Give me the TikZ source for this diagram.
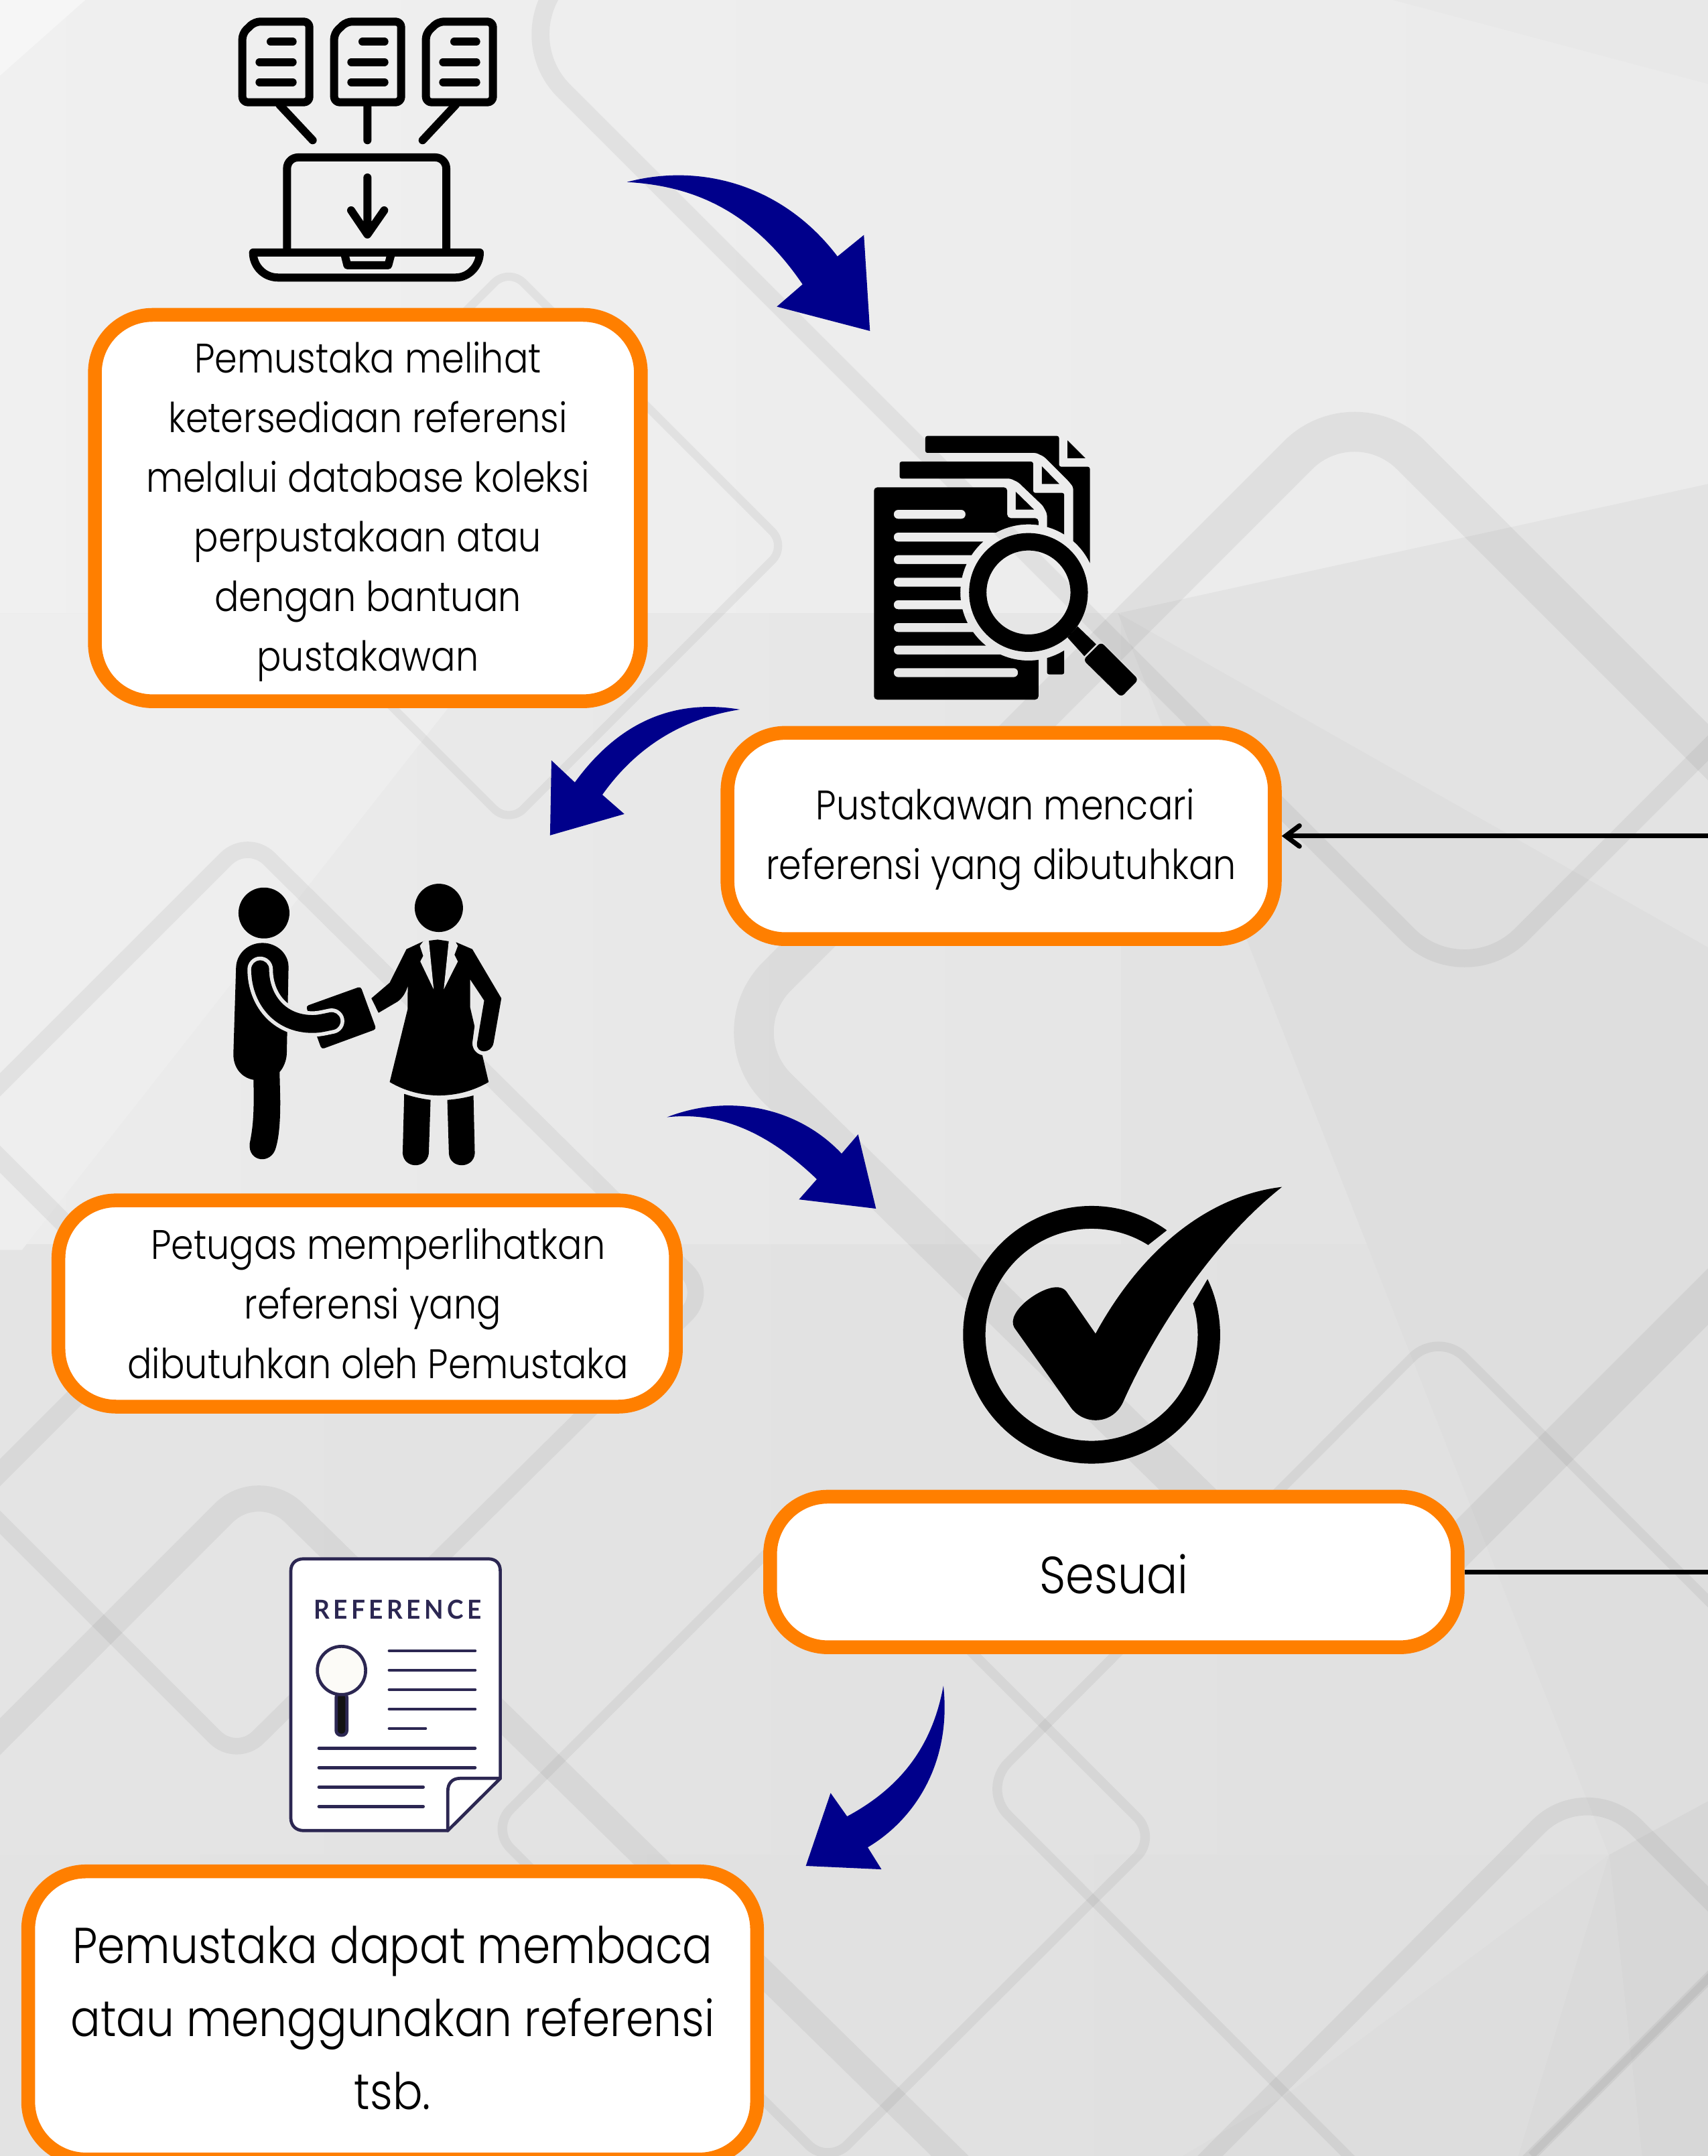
\documentclass[tikz,border=0pt]{standalone}
\usepackage{fontspec}
\setmainfont{Poppins Light}[FakeStretch=0.878]
\newfontfamily\reffont{Lato}[LetterSpace=14,FakeStretch=0.95]
\usetikzlibrary{arrows.meta}
\definecolor{orangeb}{HTML}{FF7F00}
\definecolor{navyb}{HTML}{00008B}
\definecolor{ink}{HTML}{2C2752}
\definecolor{gapc}{HTML}{E9E9E9}
\definecolor{lensc}{HTML}{FCFBF7}
\tikzset{
  flowbox/.style={draw=orangeb,fill=white,line width=10pt,rounded corners=42pt,align=center,inner sep=0pt,text=black},
  band/.style={draw=black,draw opacity=0.05,line width=#1,line join=round},
  curved/.style={fill=navyb},
  facet/.style={fill=#1,draw=none},
  icon/.style={x=0.1624pt,y=-0.1624pt},
  stk/.style={draw=black,line width=5.85pt,line cap=round,line join=round},
  rlf/.style={draw=ink,line width=2.3pt,line cap=round,line join=round},
  feedback/.style={draw=black,line width=3.5pt},
}
\begin{document}
\begin{tikzpicture}[x=1pt,y=-1pt]
\useasboundingbox (0,0) rectangle (1242,1568);
% ---- background
\begin{scope}
\clip (0,0) rectangle (1242,1568);
\shade[left color=black!6,right color=black!8] (0,0) rectangle (1242,446);
\shade[left color=black!7.5,right color=black!10] (0,446) rectangle (815,905);
\fill[facet=black!11] (815,446) rectangle (1242,905);
\shade[left color=black!10.5,right color=black!12] (0,905) rectangle (1242,1349);
\shade[left color=black!11,right color=black!12.5] (0,1349) rectangle (1242,1568);
\fill[facet=black!3.5] (0,0) -- (62,0) -- (0,55) -- cycle;
\fill[facet=black!9] (1013,0) -- (1242,61) -- (1242,0) -- cycle;
\fill[facet=black!11] (813,446) -- (1242,352) -- (1242,446) -- cycle;
\fill[facet=black!6.5] (0,446) -- (380,446) -- (16,909) -- (0,909) -- cycle;
\fill[facet=black!13] (813,446) -- (994,905) -- (1242,905) -- (1242,689) -- cycle;
\fill[facet=black!13] (994,905) -- (1170,1349) -- (1242,1310) -- (1242,905) -- cycle;
\fill[facet=black!15.5] (1170,1349) -- (1242,1310) -- (1242,1568) -- (1194,1568) -- cycle;
\fill[facet=black!14.5] (1170,1349) -- (1194,1568) -- (1104,1568) -- cycle;
\fill[facet=black!13.5] (1170,1349) -- (1104,1568) -- (860,1568) -- (936,1523) -- cycle;
% diamonds
\draw[band=13,rounded corners=58pt] (569,-175) -- (369,25) -- (1065,721) -- (1465,321);
\draw[band=29,rounded corners=58pt] (985,290) -- (1440,745) -- (984,1201) -- (524,751) -- cycle;
\draw[band=6,rounded corners=15pt] (370,195) -- (572,397) -- (370,599) -- (168,397) -- cycle;
\draw[band=12,rounded corners=22pt] (180,609) -- (515,940) -- (172,1279) -- (-159,948) -- cycle;
\draw[band=14,rounded corners=20pt] (-100,743) -- (114,957) -- (-100,1171);
\draw[band=19,rounded corners=36pt] (-100,1363) -- (188,1075) -- (800,1675);
\draw[band=7,rounded corners=27pt] (1046,968) -- (1379,1301) -- (1046,1634) -- (714,1301) -- cycle;
\draw[band=7,rounded corners=20pt] (596,1091) -- (841,1336) -- (602,1574) -- (357,1330) -- cycle;
\draw[band=13,rounded corners=50pt] (850,1598) -- (1154,1293) -- (1500,1639);
\draw[band=7] (1300,1382) -- (1114,1568);
\end{scope}
% ---- icon: laptop with documents
\begin{scope}[shift={(146.2,0)},icon]
\foreach \d in {0,411,822}{
  \draw[stk,rounded corners=4pt,shift={(\d,0)}] (185,150) -- (240,97) -- (485,97) -- (485,458) -- (185,458) -- cycle;
  \draw[stk,shift={(\d,0)}] (312,187) -- (410,187) (262,278) -- (410,278) (262,368) -- (410,368);
}
\draw[stk] (352,470) -- (500,628) (745,470) -- (745,628) (1140,470) -- (992,628);
\draw[stk,rounded corners=8pt] (385,1130) -- (385,705) -- (1098,705) -- (1098,1130);
\draw[stk] (745,795) -- (745,1050) (672,942) -- (745,1050) -- (820,942);
\draw[stk] (233,1131) -- (1248,1131) .. controls (1248,1190) and (1200,1243) .. (1140,1243) -- (345,1243) .. controls (280,1243) and (233,1190) .. (233,1131) -- cycle;
\draw[stk] (642,1135) -- (655,1188) -- (838,1188) -- (852,1135);
\end{scope}
% ---- icon: documents and magnifier
\begin{scope}[shift={(613.9,302.1)},icon]
\begin{scope}
\clip (-200,-200) -- (1600,-200) -- (1600,1600) -- (-200,1600) -- cycle (1130,793) arc[start angle=360,end angle=0,radius=305];
\fill[rounded corners=1.5pt] (363,168) -- (363,92) -- (962,92) -- (962,230) -- (1100,230) -- (1100,800) -- (1025,800) -- (1025,320) -- (1005,295) -- (895,185) -- (860,168) -- cycle;
\fill[rounded corners=1.5pt] (248,283) -- (248,207) -- (846,207) -- (846,347) -- (985,347) -- (985,1160) -- (908,1160) -- (908,440) -- (890,405) -- (780,300) -- (745,283) -- cycle;
\fill[even odd rule] [rounded corners=2.5pt] (133,322) -- (730,322) -- (730,460) -- (870,460) -- (870,1273) -- (133,1273) -- cycle
 [rounded corners=3pt]
 (222,423) rectangle (543,463)
 (222,525) rectangle (760,565)
 (222,626) rectangle (760,666)
 (222,727) rectangle (760,767)
 (222,828) rectangle (760,868)
 (222,930) rectangle (760,970)
 (222,1031) rectangle (760,1071)
 (222,1132) rectangle (778,1172);
\end{scope}
\fill (1000,112) -- (1080,192) -- (1000,192) -- cycle;
\fill (885,228) -- (963,307) -- (885,307) -- cycle;
\fill (768,342) -- (850,422) -- (768,422) -- cycle;
\fill[even odd rule] (825,793) circle[radius=266] (825,793) circle[radius=188];
\fill (1045,945) -- (1128,1025) -- (1075,1078) -- (1000,995) -- cycle;
\fill[rounded corners=3pt] (1150,1015) -- (1318,1183) -- (1240,1262) -- (1070,1095) -- cycle;
\end{scope}
% ---- icon: two people
\begin{scope}[shift={(155.9,628.6)},icon]
\fill (222,218) circle[radius=114];
\fill (97,460) .. controls (100,400) and (150,352) .. (215,352) .. controls (280,352) and (332,400) .. (332,460) -- (324,850) .. controls (322,880) and (310,910) .. (292,930) -- (295,1060) .. controls (295,1150) and (290,1220) .. (275,1270) .. controls (255,1345) and (150,1335) .. (158,1250) .. controls (175,1170) and (178,1100) .. (175,965) .. controls (120,955) and (85,910) .. (85,850) -- cycle;
\fill[rounded corners=2pt] (410,635) -- (655,547) -- (725,738) -- (480,828) -- cycle;
\draw[draw=gapc,line width=18.5pt,line cap=round] (205,470) .. controls (205,600) and (290,715) .. (440,715) .. controls (470,715) and (495,708) .. (525,702);
\draw[draw=black,line width=13pt,line cap=round] (205,470) .. controls (205,600) and (290,715) .. (440,715) .. controls (470,715) and (495,708) .. (525,702);
\fill (1005,195) circle[radius=108];
\fill (860,380) -- (935,345) -- (1000,337) -- (1085,350) -- (1155,380) -- (1285,600) -- (1250,800) .. controls (1240,850) and (1170,850) .. (1176,800) -- (1208,610) -- (1145,515) -- (1145,640) -- (1165,725) -- (1155,800) .. controls (1155,830) and (1175,850) .. (1200,855) -- (1228,975) .. controls (1090,1055) and (920,1055) .. (785,975) -- (865,650) -- (866,545) .. controls (855,580) and (840,600) .. (820,615) -- (735,665) -- (703,600) -- (785,530) -- cycle;
\fill[gapc] (935,345) -- (920,365) -- (935,410) -- (922,435) -- (982,560) -- (960,338) -- cycle;
\fill[gapc] (1050,338) -- (1027,560) -- (1090,435) -- (1075,405) -- (1090,365) -- (1080,348) -- cycle;
\fill (850,1028) .. controls (890,1042) and (930,1050) .. (968,1055) -- (960,1295) .. controls (950,1365) and (850,1365) .. (843,1295) -- cycle;
\fill (1043,1055) .. controls (1085,1052) and (1125,1045) .. (1160,1035) -- (1166,1295) .. controls (1160,1365) and (1055,1365) .. (1050,1295) -- cycle;
\end{scope}
% ---- icon: tick
\begin{scope}[shift={(682.2,847.8)},x=0.1678pt,y=-0.1624pt]
\begin{scope}
\clip (0,0) -- (1050,0) -- (990,290) -- (910,355) -- (1105,617) -- (1168,507) -- (1500,507) -- (1500,1500) -- (0,1500) -- cycle;
\fill[even odd rule] (108,757) arc[x radius=557,y radius=577,start angle=180,end angle=540]
  (205,757) arc[x radius=460,y radius=475,start angle=180,end angle=540];
\end{scope}
\fill (1490,95) .. controls (1200,130) and (900,340) .. (682,752) -- (555,562) .. controls (520,520) and (440,560) .. (390,600) .. controls (340,640) and (310,690) .. (330,725) -- (570,1075) .. controls (625,1165) and (760,1165) .. (805,1050) .. controls (940,740) and (1190,340) .. (1490,95) -- cycle;
\end{scope}
% ---- icon: reference sheet
\begin{scope}[shift={(194.9,1120.7)},icon]
\filldraw[rlf,fill=white] (102,135) .. controls (102,100) and (125,80) .. (160,80) -- (985,80) .. controls (1020,80) and (1040,100) .. (1040,135) -- (1040,1063) -- (805,1297) -- (160,1297) .. controls (125,1297) and (102,1275) .. (102,1240) -- cycle;
\draw[rlf] (1040,1063) -- (860,1063) .. controls (825,1063) and (805,1085) .. (805,1120) -- (805,1297);
\node[text=ink,inner sep=0pt,font=\reffont\bfseries\fontsize{19}{20}\selectfont] (reftitle) at (580,308) {REFERENCE};
\filldraw[rlf,fill=black!93,line width=2.3pt,rounded corners=3.5pt] (305,680) rectangle (353,870);
\filldraw[rlf,fill=lensc] (329,580) circle[radius=108];
\draw[rlf] (543,492) -- (927,492) (543,579) -- (927,579) (543,666) -- (927,666) (543,753) -- (927,753) (543,840) -- (705,840)
 (228,928) -- (927,928) (228,1015) -- (927,1015) (228,1102) -- (695,1102) (228,1189) -- (695,1189);
\end{scope}
% ---- curved blue arrows
\fill[curved] (456,132.4) .. controls (510,118) and (570,135) .. (609,186.5) -- (628.2,170.9) -- (632.6,240.7) -- (564.9,223) -- (583.6,206.8) .. controls (545,150) and (500,135) .. (456,132.4) -- cycle;
\fill[curved] (538,516) .. controls (490,508) and (450,525) .. (418,569) -- (401,553) -- (400,607.5) -- (454,592) -- (438,578) .. controls (465,540) and (500,522) .. (538,516) -- cycle;
\fill[curved] (485,812.5) .. controls (530,795) and (580,805) .. (612,839) -- (624,825) -- (637,879) -- (581,872.3) -- (594,857.6) .. controls (560,825) and (525,808) .. (485,812.5) -- cycle;
\fill[curved] (686,1226) .. controls (692,1280) and (667,1322) .. (631,1343.5) -- (641,1359.5) -- (586,1357) -- (604,1304) -- (616,1321) .. controls (655,1300) and (678,1270) .. (686,1226) -- cycle;
% ---- boxes
\node[flowbox,minimum width=397pt,minimum height=281pt,font=\fontsize{30}{43.3}\selectfont] (lihat) at (267.5,369.5)
 {\rule{0pt}{28pt}Pemustaka melihat\\ketersediaan referensi\hspace*{8pt}\\melalui database koleksi\\perpustakaan atau\hspace*{8pt}\\dengan bantuan\\pustakawan};
\node[flowbox,minimum width=398pt,minimum height=150pt,font=\fontsize{30}{43.3}\selectfont] (cari) at (728,608)
 {\rule{0pt}{28pt}\hspace*{6pt}Pustakawan mencari\\referensi yang dibutuhkan};
\node[flowbox,minimum width=449pt,minimum height=150pt,font=\fontsize{30}{43.3}\selectfont] (petugas) at (267,948)
 {\hspace*{16pt}Petugas memperlihatkan\\\hspace*{8pt}referensi yang\\\hspace*{16pt}dibutuhkan oleh Pemustaka};
\node[flowbox,minimum width=500pt,minimum height=109.5pt,font=\fontsize{38}{44}\selectfont] (sesuai) at (810,1143.25) {\rule{0pt}{32pt}Sesuai};
\node[flowbox,minimum width=530pt,minimum height=209.5pt,font=\fontsize{36.7}{53}\selectfont] (baca) at (285.5,1465.75)
 {\rule{0pt}{31pt}Pemustaka dapat membaca\\atau menggunakan referensi\\tsb.};
% ---- feedback lines
\coordinate (offb) at (1247,1143.25);
\coordinate (offa) at (1247,608);
\draw[feedback] (sesuai.east) -- (offb);
\draw[feedback,arrows={-Straight Barb[length=10pt,width=15pt,line cap=round]}] (offa) -- (cari.east);
\end{tikzpicture}
\end{document}
